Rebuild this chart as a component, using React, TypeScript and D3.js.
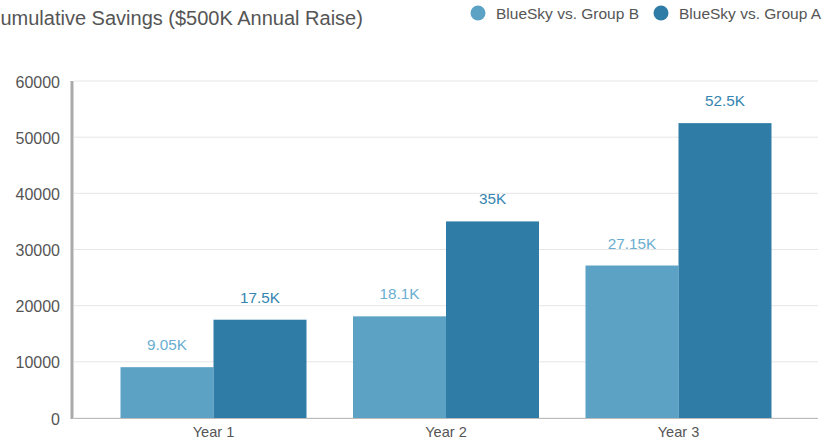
import React, { useEffect, useRef } from 'react';
import * as d3 from 'd3';

const years = ['Year 1', 'Year 2', 'Year 3'];
const seriesNames = ['BlueSky vs. Group B', 'BlueSky vs. Group A'];
const groupB = [9050, 18100, 27150];
const groupA = [17500, 35000, 52500];
const valueLabelsB = ['9.05K', '18.1K', '27.15K'];
const valueLabelsA = ['17.5K', '35K', '52.5K'];
const yTicks = [0, 10000, 20000, 30000, 40000, 50000, 60000];

const colors = ['#5ba2c4', '#2f7da7'];
const labelColors = ['#6aaed0', '#3585b0'];

const App: React.FC = () => {
    const svgRef = useRef<SVGSVGElement | null>(null);

    useEffect(() => {
        const width = 826;
        const height = 442;
        const margin = { top: 81, right: 8, bottom: 24, left: 74 };

        const svg = d3.select(svgRef.current);
        svg.selectAll('*').remove();
        svg.attr('width', width).attr('height', height);

        const font = "'Liberation Sans', Arial, sans-serif";

        // title (cut off at left like the original)
        svg.append('text')
            .attr('x', -14)
            .attr('y', 25)
            .attr('font-family', font)
            .attr('font-size', 20)
            .attr('fill', '#555')
            .text('Cumulative Savings ($500K Annual Raise)');

        // legend
        const legendX = [478, 661];
        seriesNames.forEach((name, i) => {
            svg.append('circle')
                .attr('cx', legendX[i])
                .attr('cy', 13)
                .attr('r', 7.5)
                .attr('fill', colors[i]);
            svg.append('text')
                .attr('x', legendX[i] + 18)
                .attr('y', 18.5)
                .attr('font-family', font)
                .attr('font-size', 15.5)
                .attr('fill', '#555')
                .text(name);
        });

        const x0 = d3.scaleBand()
            .domain(years)
            .range([margin.left, width - margin.right])
            .padding(0.2);

        const x1 = d3.scaleBand()
            .domain(seriesNames)
            .range([0, x0.bandwidth()]);

        const y = d3.scaleLinear()
            .domain([0, 60000])
            .range([height - margin.bottom, margin.top]);

        // gridlines
        svg.append('g')
            .selectAll('line')
            .data(yTicks)
            .enter().append('line')
            .attr('x1', margin.left)
            .attr('x2', width - margin.right)
            .attr('y1', d => y(d))
            .attr('y2', d => y(d))
            .attr('stroke', '#e6e6e6')
            .attr('stroke-width', 1);

        // y tick labels
        svg.append('g')
            .selectAll('text')
            .data(yTicks)
            .enter().append('text')
            .attr('x', 60)
            .attr('y', d => y(d) + 6.5)
            .attr('text-anchor', 'end')
            .attr('font-family', font)
            .attr('font-size', 16)
            .attr('fill', '#555')
            .text(d => d);

        const series = [groupB, groupA];
        const labels = [valueLabelsB, valueLabelsA];

        series.forEach((vals, si) => {
            const g = svg.append('g');
            g.selectAll('rect')
                .data(vals)
                .enter().append('rect')
                .attr('x', (d, i) => (x0(years[i]) || 0) + (x1(seriesNames[si]) || 0))
                .attr('y', d => y(d))
                .attr('width', x1.bandwidth())
                .attr('height', d => y(0) - y(d))
                .attr('fill', colors[si]);

            g.selectAll('text')
                .data(vals)
                .enter().append('text')
                .attr('x', (d, i) => (x0(years[i]) || 0) + (x1(seriesNames[si]) || 0) + x1.bandwidth() / 2)
                .attr('y', d => y(d) - 17)
                .attr('text-anchor', 'middle')
                .attr('font-family', font)
                .attr('font-size', 15.3)
                .attr('fill', labelColors[si])
                .text((d, i) => labels[si][i]);
        });

        // x axis line
        svg.append('line')
            .attr('x1', margin.left)
            .attr('x2', width - margin.right)
            .attr('y1', y(0) + 0.5)
            .attr('y2', y(0) + 0.5)
            .attr('stroke', '#bbb')
            .attr('stroke-width', 1);

        // y axis line
        svg.append('line')
            .attr('x1', 72)
            .attr('x2', 72)
            .attr('y1', y(60000))
            .attr('y2', y(0) + 1)
            .attr('stroke', '#aaa')
            .attr('stroke-width', 3);

        // x labels
        svg.append('g')
            .selectAll('text')
            .data(years)
            .enter().append('text')
            .attr('x', d => (x0(d) || 0) + x0.bandwidth() / 2)
            .attr('y', 437)
            .attr('text-anchor', 'middle')
            .attr('font-family', font)
            .attr('font-size', 14.6)
            .attr('fill', '#555')
            .text(d => d);
    }, []);

    return (
        <svg ref={svgRef} style={{ position: 'absolute', left: 0, top: 0, background: '#fff' }}></svg>
    );
};

export default App;
